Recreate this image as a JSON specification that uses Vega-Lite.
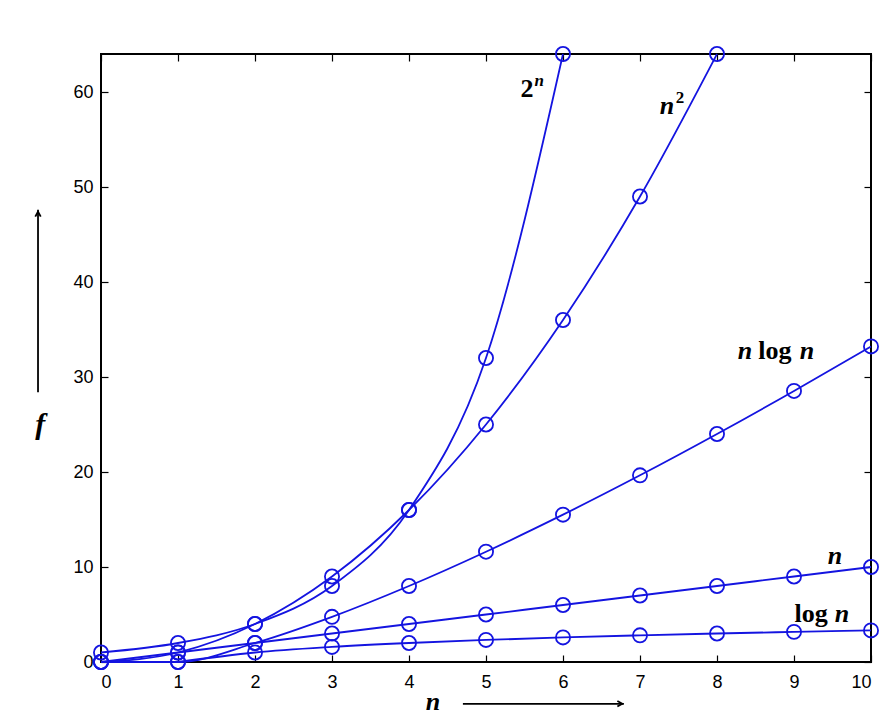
{
  "$schema": "https://vega.github.io/schema/vega-lite/v6.json",
  "width": 770,
  "height": 608,
  "autosize": {"type": "none"},
  "padding": {"left": 101, "top": 54, "right": 25, "bottom": 49},
  "background": "white",
  "config": {
    "view": {"stroke": "black", "strokeWidth": 2},
    "axis": {
      "grid": false,
      "domain": false,
      "tickColor": "black",
      "tickWidth": 1.2,
      "tickSize": -7,
      "labelFont": "Liberation Sans",
      "labelFontSize": 18,
      "labelColor": "black",
      "title": null
    }
  },
  "datasets": {
    "series": [
      {"s": "2^n", "n": 0, "f": 1}, {"s": "2^n", "n": 1, "f": 2}, {"s": "2^n", "n": 2, "f": 4}, {"s": "2^n", "n": 3, "f": 8}, {"s": "2^n", "n": 4, "f": 16}, {"s": "2^n", "n": 5, "f": 32}, {"s": "2^n", "n": 6, "f": 64},
      {"s": "n^2", "n": 0, "f": 0}, {"s": "n^2", "n": 1, "f": 1}, {"s": "n^2", "n": 2, "f": 4}, {"s": "n^2", "n": 3, "f": 9}, {"s": "n^2", "n": 4, "f": 16}, {"s": "n^2", "n": 5, "f": 25}, {"s": "n^2", "n": 6, "f": 36}, {"s": "n^2", "n": 7, "f": 49}, {"s": "n^2", "n": 8, "f": 64},
      {"s": "nlogn", "n": 0, "f": 0}, {"s": "nlogn", "n": 1, "f": 0}, {"s": "nlogn", "n": 2, "f": 2}, {"s": "nlogn", "n": 3, "f": 4.755}, {"s": "nlogn", "n": 4, "f": 8}, {"s": "nlogn", "n": 5, "f": 11.61}, {"s": "nlogn", "n": 6, "f": 15.51}, {"s": "nlogn", "n": 7, "f": 19.65}, {"s": "nlogn", "n": 8, "f": 24}, {"s": "nlogn", "n": 9, "f": 28.53}, {"s": "nlogn", "n": 10, "f": 33.22},
      {"s": "n", "n": 0, "f": 0}, {"s": "n", "n": 1, "f": 1}, {"s": "n", "n": 2, "f": 2}, {"s": "n", "n": 3, "f": 3}, {"s": "n", "n": 4, "f": 4}, {"s": "n", "n": 5, "f": 5}, {"s": "n", "n": 6, "f": 6}, {"s": "n", "n": 7, "f": 7}, {"s": "n", "n": 8, "f": 8}, {"s": "n", "n": 9, "f": 9}, {"s": "n", "n": 10, "f": 10},
      {"s": "logn", "n": 1, "f": 0}, {"s": "logn", "n": 2, "f": 1}, {"s": "logn", "n": 3, "f": 1.585}, {"s": "logn", "n": 4, "f": 2}, {"s": "logn", "n": 5, "f": 2.322}, {"s": "logn", "n": 6, "f": 2.585}, {"s": "logn", "n": 7, "f": 2.807}, {"s": "logn", "n": 8, "f": 3}, {"s": "logn", "n": 9, "f": 3.17}, {"s": "logn", "n": 10, "f": 3.322}
    ],
    "bigItalic": [
      {"t": "n", "n": 7.35, "f": 57.7},
      {"t": "n", "n": 8.364, "f": 31.9},
      {"t": "n", "n": 9.169, "f": 31.9},
      {"t": "n", "n": 9.532, "f": 10.3},
      {"t": "n", "n": 9.623, "f": 4.2},
      {"t": "n", "n": 4.31, "f": -5.0}
    ],
    "bigUpright": [
      {"t": "2", "n": 5.532, "f": 59.5},
      {"t": "log", "n": 8.753, "f": 31.9},
      {"t": "log", "n": 9.221, "f": 4.2}
    ],
    "supItalic": [
      {"t": "n", "n": 5.69, "f": 60.6}
    ],
    "supUpright": [
      {"t": "2", "n": 7.52, "f": 58.8}
    ],
    "fLabel": [
      {"t": "f", "n": -0.79, "f": 24.0}
    ],
    "arrowLines": [
      {"n": -0.818, "f": 28.4, "n2": -0.818, "f2": 47.6},
      {"n": 4.70, "f": -4.4, "n2": 6.79, "f2": -4.4}
    ],
    "arrowUp": [{"n": -0.818, "f": 47.4}],
    "arrowRight": [{"n": 6.77, "f": -4.4}]
  },
  "layer": [
    {
      "data": {"name": "series"},
      "mark": {"type": "line", "interpolate": "monotone", "color": "#1414e0", "strokeWidth": 1.8},
      "encoding": {
        "x": {"field": "n", "type": "quantitative", "scale": {"domain": [0, 10], "nice": false, "zero": false},
              "axis": {"orient": "bottom", "values": [0,1,2,3,4,5,6,7,8,9,10], "labelPadding": 18}},
        "y": {"field": "f", "type": "quantitative", "scale": {"domain": [0, 64], "nice": false},
              "axis": {"orient": "left", "values": [0,10,20,30,40,50,60], "labelPadding": 15}},
        "detail": {"field": "s"}
      }
    },
    {
      "data": {"name": "series"},
      "mark": {"type": "point", "shape": "circle", "filled": false, "color": "#1414e0", "opacity": 1, "size": 200, "strokeWidth": 1.8},
      "encoding": {
        "x": {"field": "n", "type": "quantitative", "axis": {"orient": "top", "values": [0,1,2,3,4,5,6,7,8,9,10], "labels": false}},
        "y": {"field": "f", "type": "quantitative", "axis": {"orient": "right", "values": [0,10,20,30,40,50,60], "labels": false}}
      }
    },
    {
      "data": {"name": "bigItalic"},
      "mark": {"type": "text", "font": "Liberation Serif", "fontWeight": "bold", "fontStyle": "italic", "fontSize": 26, "align": "center", "baseline": "alphabetic", "color": "black"},
      "encoding": {
        "x": {"field": "n", "type": "quantitative", "axis": null},
        "y": {"field": "f", "type": "quantitative", "axis": null},
        "text": {"field": "t"}
      }
    },
    {
      "data": {"name": "bigUpright"},
      "mark": {"type": "text", "font": "Liberation Serif", "fontWeight": "bold", "fontSize": 26, "align": "center", "baseline": "alphabetic", "color": "black"},
      "encoding": {
        "x": {"field": "n", "type": "quantitative", "axis": null},
        "y": {"field": "f", "type": "quantitative", "axis": null},
        "text": {"field": "t"}
      }
    },
    {
      "data": {"name": "supItalic"},
      "mark": {"type": "text", "font": "Liberation Serif", "fontWeight": "bold", "fontStyle": "italic", "fontSize": 17, "align": "center", "baseline": "alphabetic", "color": "black"},
      "encoding": {
        "x": {"field": "n", "type": "quantitative", "axis": null},
        "y": {"field": "f", "type": "quantitative", "axis": null},
        "text": {"field": "t"}
      }
    },
    {
      "data": {"name": "supUpright"},
      "mark": {"type": "text", "font": "Liberation Serif", "fontWeight": "bold", "fontSize": 17, "align": "center", "baseline": "alphabetic", "color": "black"},
      "encoding": {
        "x": {"field": "n", "type": "quantitative", "axis": null},
        "y": {"field": "f", "type": "quantitative", "axis": null},
        "text": {"field": "t"}
      }
    },
    {
      "data": {"name": "fLabel"},
      "mark": {"type": "text", "font": "Liberation Serif", "fontWeight": "bold", "fontStyle": "italic", "fontSize": 30, "align": "center", "baseline": "alphabetic", "color": "black"},
      "encoding": {
        "x": {"field": "n", "type": "quantitative", "axis": null},
        "y": {"field": "f", "type": "quantitative", "axis": null},
        "text": {"field": "t"}
      }
    },
    {
      "data": {"name": "arrowLines"},
      "mark": {"type": "rule", "color": "black", "strokeWidth": 1.8},
      "encoding": {
        "x": {"field": "n", "type": "quantitative", "axis": null},
        "y": {"field": "f", "type": "quantitative", "axis": null},
        "x2": {"field": "n2"},
        "y2": {"field": "f2"}
      }
    },
    {
      "data": {"name": "arrowUp"},
      "mark": {"type": "point", "shape": "M -0.5 0.9 L 0 0 L 0.5 0.9", "filled": false, "stroke": "black", "opacity": 1, "strokeWidth": 1.8, "size": 120},
      "encoding": {
        "x": {"field": "n", "type": "quantitative", "axis": null},
        "y": {"field": "f", "type": "quantitative", "axis": null}
      }
    },
    {
      "data": {"name": "arrowRight"},
      "mark": {"type": "point", "shape": "M -0.9 -0.5 L 0 0 L -0.9 0.5", "filled": false, "stroke": "black", "opacity": 1, "strokeWidth": 1.8, "size": 120},
      "encoding": {
        "x": {"field": "n", "type": "quantitative", "axis": null},
        "y": {"field": "f", "type": "quantitative", "axis": null}
      }
    }
  ],
  "resolve": {"axis": {"x": "independent", "y": "independent"}}
}
